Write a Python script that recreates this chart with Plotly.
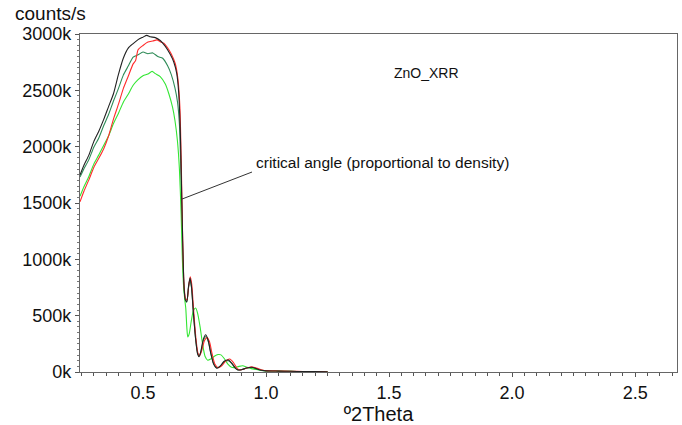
import plotly.graph_objects as go

# X-ray reflectivity scans of a ZnO film: intensity (k counts/s) vs 2Theta (deg)
black_x = [0.244, 0.26, 0.28, 0.30, 0.32, 0.34, 0.36, 0.38, 0.40, 0.42, 0.44, 0.46, 0.48, 0.50,
           0.515, 0.53, 0.55, 0.57, 0.59, 0.61, 0.625, 0.637, 0.645, 0.652, 0.657, 0.662, 0.667,
           0.672, 0.678, 0.685, 0.691, 0.697, 0.705, 0.714, 0.722, 0.728, 0.735, 0.745, 0.755,
           0.765, 0.775, 0.787, 0.80, 0.815, 0.83, 0.847, 0.862, 0.875, 0.886, 0.90, 0.92, 0.942,
           0.96, 0.98, 1.00, 1.05, 1.10, 1.15, 1.20, 1.25]
black_y = [1748, 1835, 1925, 2045, 2135, 2240, 2355, 2470, 2640, 2785, 2875, 2915, 2950, 2972,
           2988, 2975, 2968, 2942, 2892, 2822, 2752, 2650, 2480, 2100, 1600, 1100, 750,
           640, 625, 760, 834, 760, 520, 290, 160, 136, 180, 290, 330,
           280, 170, 70, 33, 55, 95, 106, 75, 35, 18, 20, 35, 42,
           30, 15, 10, 8, 6, 4, 3, 2]

red_x = [0.244, 0.26, 0.28, 0.30, 0.32, 0.34, 0.36, 0.38, 0.40, 0.42, 0.44, 0.46, 0.47, 0.48,
         0.50, 0.52, 0.54, 0.557, 0.57, 0.585, 0.60, 0.615, 0.631, 0.642, 0.65, 0.656, 0.661,
         0.666, 0.672, 0.679, 0.686, 0.692, 0.698, 0.706, 0.715, 0.723, 0.73, 0.738, 0.75, 0.76,
         0.77, 0.78, 0.792, 0.805, 0.82, 0.835, 0.852, 0.867, 0.88, 0.89, 0.905, 0.925, 0.945,
         0.965, 0.985, 1.00, 1.05, 1.10, 1.15, 1.20, 1.25]
red_y = [1511, 1605, 1705, 1815, 1895, 1980, 2095, 2245, 2375, 2515, 2625, 2735, 2765, 2860,
         2898, 2928, 2938, 2948, 2932, 2918, 2878, 2822, 2738, 2600, 2350, 1800, 1200,
         800, 660, 640, 770, 845, 780, 540, 300, 170, 145, 185, 280, 305,
         270, 170, 70, 38, 55, 95, 115, 85, 40, 20, 22, 38, 45,
         32, 18, 12, 9, 6, 5, 3, 2]

dkgreen_x = [0.244, 0.26, 0.28, 0.30, 0.32, 0.34, 0.36, 0.38, 0.40, 0.42, 0.44, 0.46, 0.48, 0.50,
             0.52, 0.54, 0.56, 0.58, 0.60, 0.615, 0.63, 0.64, 0.648, 0.655, 0.66, 0.665, 0.671,
             0.678, 0.685, 0.691, 0.697, 0.705, 0.714, 0.722, 0.728, 0.736, 0.746, 0.756, 0.766,
             0.776, 0.788, 0.80, 0.815, 0.83, 0.847, 0.862, 0.875, 0.886, 0.90, 0.92, 0.942,
             0.96, 0.98, 1.00, 1.05, 1.10, 1.15, 1.20, 1.25]
dkgreen_y = [1730, 1805, 1885, 1995, 2075, 2185, 2285, 2405, 2515, 2635, 2715, 2795, 2815, 2840,
             2825, 2832, 2800, 2785, 2718, 2640, 2520, 2400, 2200, 1700, 1200, 820, 650,
             620, 750, 820, 750, 520, 290, 165, 140, 185, 285, 315, 265,
             165, 68, 35, 55, 92, 100, 72, 34, 18, 20, 33, 40,
             28, 14, 10, 8, 6, 4, 3, 2]

ltgreen_x = [0.244, 0.26, 0.28, 0.30, 0.32, 0.34, 0.36, 0.38, 0.40, 0.42, 0.44, 0.46, 0.48, 0.50,
             0.52, 0.537, 0.55, 0.57, 0.59, 0.605, 0.62, 0.63, 0.64, 0.648, 0.655, 0.66, 0.665,
             0.67, 0.674, 0.678, 0.682, 0.688, 0.696, 0.705, 0.714, 0.722, 0.732, 0.742, 0.752,
             0.763, 0.775, 0.79, 0.805, 0.817, 0.83, 0.845, 0.86, 0.875, 0.89, 0.905, 0.92, 0.94,
             0.96, 0.98, 1.00, 1.05, 1.10, 1.15, 1.20, 1.25]
ltgreen_y = [1560, 1645, 1735, 1845, 1925, 2010, 2095, 2205, 2295, 2395, 2465, 2545, 2595, 2630,
             2645, 2668, 2648, 2622, 2558, 2470, 2350, 2230, 2050, 1800, 1400, 1000, 760,
             640, 560, 400, 310, 340, 450, 545, 568, 520, 400, 250, 140,
             105, 115, 140, 155, 152, 120, 70, 42, 40, 50, 55, 45, 30,
             22, 15, 10, 8, 6, 4, 3, 2]

series = [
    ("#2e8b57", dkgreen_x, dkgreen_y),
    ("#33e633", ltgreen_x, ltgreen_y),
    ("#ff2b2b", red_x, red_y),
    ("#222222", black_x, black_y),
]

x_ticks = [0.5, 1.0, 1.5, 2.0, 2.5]
y_ticks = [0, 500, 1000, 1500, 2000, 2500, 3000]

fig = go.Figure()
for color, xs, ys in series:
    fig.add_trace(go.Scatter(x=xs, y=ys, mode="lines",
                             line=dict(color=color, width=1.1, shape="spline", smoothing=0.6),
                             showlegend=False, hoverinfo="skip"))

font = "Liberation Sans, Arial, sans-serif"
axis_common = dict(showline=True, linecolor="#666666", linewidth=1.2, mirror=True,
                   ticks="outside", tickcolor="#555555", ticklen=4, showgrid=False,
                   zeroline=False, automargin=False,
                   tickfont=dict(family=font, size=18, color="#111111"))

fig.update_xaxes(range=[0.244, 2.67], tickvals=x_ticks, ticktext=[f"{v:.1f}" for v in x_ticks],
                 minor=dict(dtick=0.05, tick0=0, ticks="outside", ticklen=3, tickcolor="#555555"),
                 title=dict(text="º2Theta", font=dict(family=font, size=20, color="#111111"),
                            standoff=6),
                 **axis_common)
fig.update_yaxes(range=[0, 3000], tickvals=y_ticks, ticktext=[f"{v}k" for v in y_ticks],
                 minor=dict(dtick=50, tick0=0, ticks="outside", ticklen=2, tickcolor="#777777"),
                 **axis_common)

# Critical-angle callout line and labels
fig.add_shape(type="line", xref="x", yref="y", x0=0.6585, y0=1535, x1=0.943, y1=1775,
              line=dict(color="#333333", width=1))
fig.add_annotation(x=0.953, y=1860, xref="x", yref="y", xanchor="left", yanchor="middle",
                   text="critical angle (proportional to density)", showarrow=False,
                   font=dict(family=font, size=15.5, color="#111111"))
fig.add_annotation(x=1.654, y=2654, xref="x", yref="y", xanchor="center", yanchor="middle",
                   text="ZnO_XRR", showarrow=False,
                   font=dict(family=font, size=14, color="#111111"))
fig.add_annotation(x=-0.113, y=1.062, xref="paper", yref="paper", xanchor="left",
                   yanchor="middle", text="counts/s", showarrow=False,
                   font=dict(family=font, size=19, color="#111111"))

fig.update_layout(width=682, height=425, margin=dict(l=80, r=5, t=34, b=53),
                  plot_bgcolor="white", paper_bgcolor="white")

fig.write_html("out.html")
